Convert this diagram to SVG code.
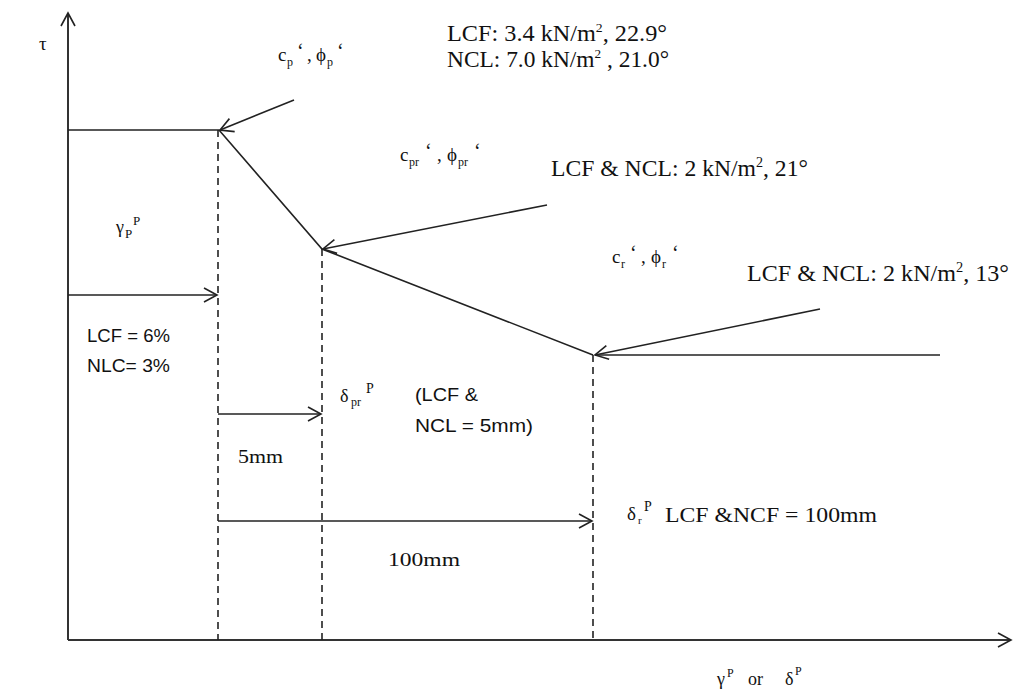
<svg xmlns="http://www.w3.org/2000/svg" width="1014" height="695" viewBox="0 0 1014 695">
<defs>
<marker id="oa" markerWidth="20" markerHeight="20" refX="14" refY="8" orient="auto" markerUnits="userSpaceOnUse">
<path d="M1,1 L14,8 L1,15" fill="none" stroke="#222" stroke-width="1.6"/>
</marker>
</defs>
<style>
.ln{stroke:#222;stroke-width:1.6;fill:none}
.ax{stroke:#333;stroke-width:2;fill:none}
.ds{stroke:#222;stroke-width:1.6;fill:none;stroke-dasharray:7,5}
.t{font-family:"Liberation Serif",serif;fill:#111}
.c{font-family:"Liberation Sans",sans-serif;fill:#111}
.s{font-size:12px}
.q{font-size:20px}
</style>
<rect width="1014" height="695" fill="#fff"/>
<g id="connectors">
<line class="ax" x1="68" y1="640" x2="68" y2="13" marker-end="url(#oa)"/>
<line class="ax" x1="68" y1="640" x2="1011" y2="640" marker-end="url(#oa)"/>
<polyline class="ln" points="68,130 219,130 322,249 593,355"/>
<line class="ds" x1="218" y1="130" x2="218" y2="640"/>
<line class="ds" x1="322" y1="249" x2="322" y2="640"/>
<line class="ds" x1="593" y1="355" x2="593" y2="640"/>
<line class="ln" x1="294" y1="100" x2="220" y2="130" marker-end="url(#oa)"/>
<line class="ln" x1="547" y1="205" x2="323" y2="249" marker-end="url(#oa)"/>
<line class="ln" x1="820" y1="309" x2="595" y2="355" marker-end="url(#oa)"/>
<line class="ln" x1="940" y1="355" x2="595" y2="355"/>
<line class="ln" x1="68" y1="295" x2="217" y2="295" marker-end="url(#oa)"/>
<line class="ln" x1="218" y1="414" x2="321" y2="414" marker-end="url(#oa)"/>
<line class="ln" x1="218" y1="521" x2="592" y2="521" marker-end="url(#oa)"/>
</g>
<g id="n-tau"><text class="t" x="39" y="50" font-size="19">τ</text></g>
<g id="n-peak" class="t" font-size="19">
<text x="278" y="61">c</text><text class="s" x="287" y="66">p</text><text class="q" x="297" y="58">‘</text>
<text x="307" y="61">,</text><text x="316" y="61">ϕ</text><text class="s" x="327" y="66">p</text><text class="q" x="337" y="58">‘</text>
</g>
<g id="n-peakval" class="t" font-size="23">
<text x="447" y="41" textLength="220" lengthAdjust="spacingAndGlyphs">LCF: 3.4 kN/m<tspan font-size="13" dy="-9">2</tspan><tspan dy="9">, 22.9°</tspan></text>
<text x="447" y="67" textLength="222" lengthAdjust="spacingAndGlyphs">NCL: 7.0 kN/m<tspan font-size="13" dy="-9">2</tspan><tspan dy="9"> , 21.0°</tspan></text>
</g>
<g id="n-pr" class="t" font-size="19">
<text x="400" y="161">c</text><text class="s" x="409" y="166">pr</text><text class="q" x="425" y="158">‘</text>
<text x="437" y="161">,</text><text x="447" y="161">ϕ</text><text class="s" x="458" y="166">pr</text><text class="q" x="474" y="158">‘</text>
</g>
<g id="n-prval"><text class="t" x="551" y="176" font-size="23.5" textLength="257" lengthAdjust="spacingAndGlyphs">LCF &amp; NCL: 2 kN/m<tspan font-size="14" dy="-9">2</tspan><tspan dy="9">, 21°</tspan></text></g>
<g id="n-gp" class="t">
<text x="116" y="233" font-size="18">γ</text><text x="125" y="238" font-size="13">P</text><text x="133" y="225" font-size="13">P</text>
</g>
<g id="n-r" class="t" font-size="19">
<text x="612" y="263">c</text><text class="s" x="621" y="268">r</text><text class="q" x="630" y="260">‘</text>
<text x="641" y="263">,</text><text x="651" y="263">ϕ</text><text class="s" x="662" y="268">r</text><text class="q" x="672" y="260">‘</text>
</g>
<g id="n-rval"><text class="t" x="747" y="281" font-size="23.5" textLength="262" lengthAdjust="spacingAndGlyphs">LCF &amp; NCL: 2 kN/m<tspan font-size="14" dy="-9">2</tspan><tspan dy="9">, 13°</tspan></text></g>
<g id="n-lcf6" class="c" font-size="18">
<text x="87" y="342" textLength="83" lengthAdjust="spacingAndGlyphs">LCF = 6%</text>
<text x="87" y="372" textLength="83" lengthAdjust="spacingAndGlyphs">NLC= 3%</text>
</g>
<g id="n-dpr" class="t">
<text x="340" y="402" font-size="18">δ</text><text x="351" y="406" font-size="12">pr</text><text x="366" y="393" font-size="14">P</text>
</g>
<g id="n-lcf5" class="c" font-size="18">
<text x="415" y="401" textLength="63" lengthAdjust="spacingAndGlyphs">(LCF &amp;</text>
<text x="415" y="432" textLength="118" lengthAdjust="spacingAndGlyphs">NCL = 5mm)</text>
</g>
<g id="n-5mm"><text class="t" x="238" y="463" font-size="19" textLength="45" lengthAdjust="spacingAndGlyphs">5mm</text></g>
<g id="n-dr" class="t">
<text x="627" y="520" font-size="19">δ</text><text x="638" y="524" font-size="11">r</text><text x="644" y="511" font-size="14">P</text>
<text x="665" y="522" font-size="21" textLength="212" lengthAdjust="spacingAndGlyphs">LCF &amp;NCF = 100mm</text>
</g>
<g id="n-100mm"><text class="t" x="388" y="566" font-size="19" textLength="72" lengthAdjust="spacingAndGlyphs">100mm</text></g>
<g id="n-xlabel" class="t" font-size="18">
<text x="717" y="685">γ</text><text x="727" y="677" font-size="12">P</text>
<text x="748" y="685">or</text>
<text x="785" y="685">δ</text><text x="795" y="675" font-size="12">P</text>
</g>
</svg>
